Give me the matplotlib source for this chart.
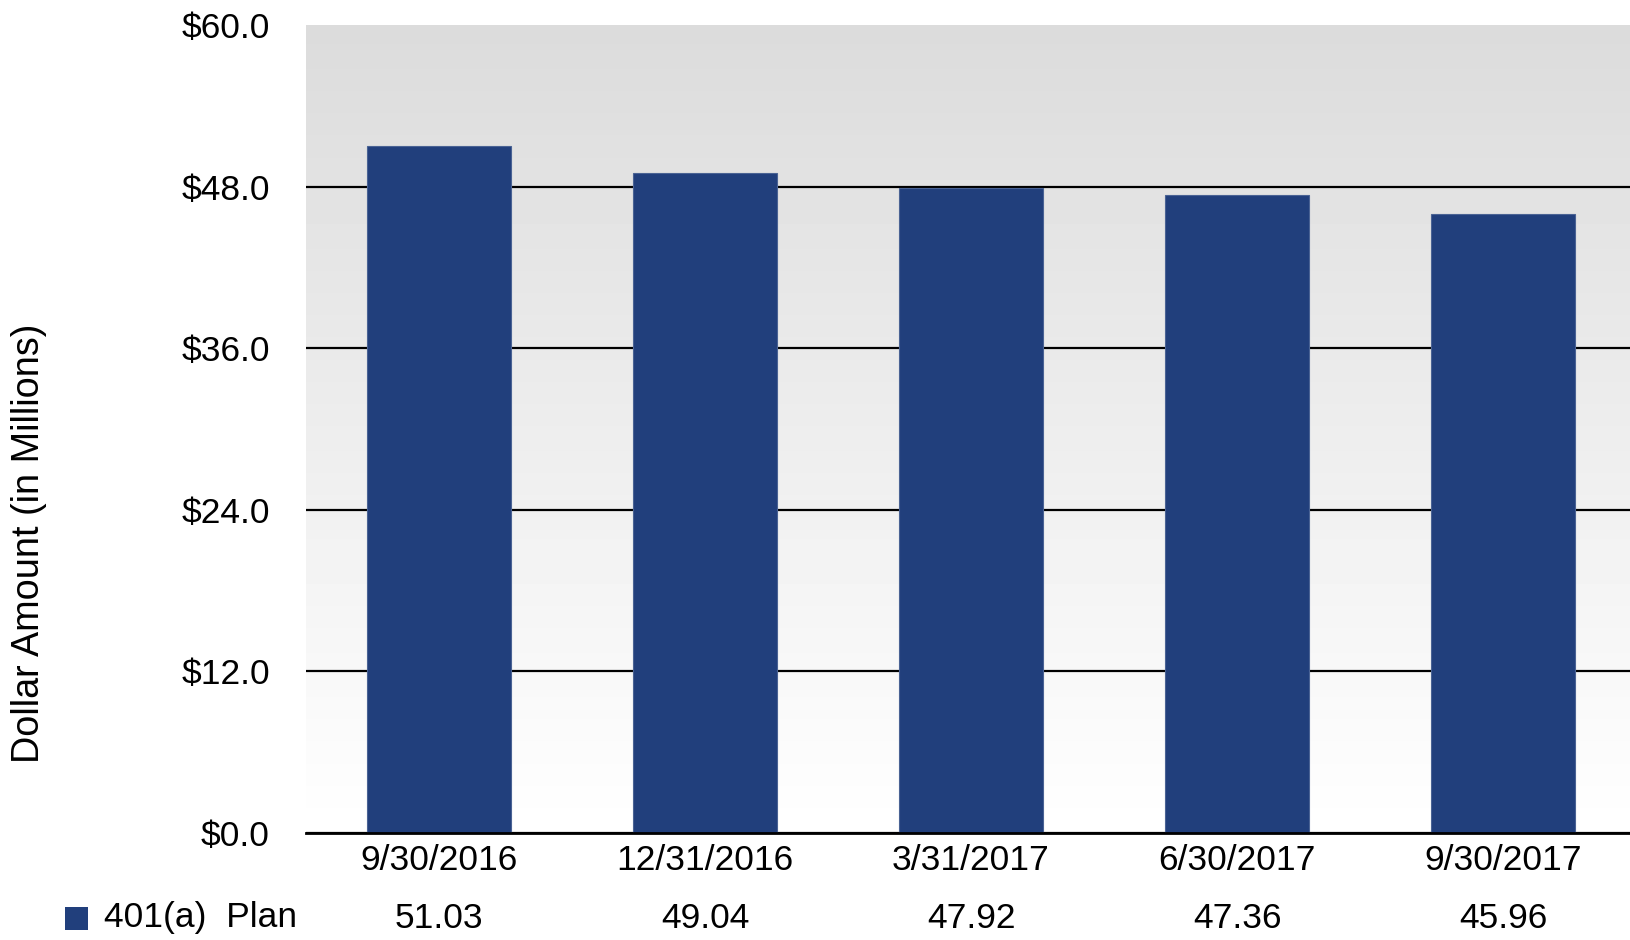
import numpy as np
import matplotlib.pyplot as plt
import matplotlib.transforms as mtransforms
from matplotlib.patches import Rectangle

dates = ['9/30/2016', '12/31/2016', '3/31/2017', '6/30/2017', '9/30/2017']
plan_401a = [51.03, 49.04, 47.92, 47.36, 45.96]
series_name = '401(a)  Plan'
yticks = [0, 12, 24, 36, 48, 60]

plt.rcParams['font.family'] = ['Liberation Sans', 'DejaVu Sans']
bar_color = '#213f7c'
W, H = 1630, 940


def main():
    fig = plt.figure(figsize=(W / 100, H / 100), dpi=100)
    # axes box in pixels: left 306, top 25, bottom 833; runs a bit past the right edge
    ax = fig.add_axes([306 / W, (H - 833) / H, (1636 - 306) / W, (833 - 25) / H])

    # grey (top) to white (bottom) gradient background
    grad = np.linspace(1.0, 0.86, 256).reshape(-1, 1)
    ax.imshow(grad, cmap='gray', vmin=0, vmax=1, aspect='auto', origin='lower',
              extent=[0, 1, 0, 1], transform=ax.transAxes, zorder=0)

    x = np.arange(len(dates))
    ax.bar(x, plan_401a, width=0.545, color=bar_color, edgecolor='#4a6394',
           linewidth=0.8, zorder=3)

    ax.set_xlim(-0.5, len(dates) - 0.5)
    ax.set_ylim(0, 60)
    ax.set_yticks(yticks)
    ax.set_yticklabels(['${:.1f}'.format(v) for v in yticks])
    ax.yaxis.grid(True, color='black', linewidth=1.6, zorder=1)
    ax.get_ygridlines()[-1].set_visible(False)
    ax.set_axisbelow(True)

    ax.set_xticks(x)
    ax.set_xticklabels(dates)
    ax.tick_params(axis='both', length=0, labelsize=25.5)
    ax.tick_params(axis='y', pad=26)
    ax.tick_params(axis='x', pad=8)

    for side in ['top', 'right', 'left']:
        ax.spines[side].set_visible(False)
    ax.spines['bottom'].set_linewidth(2)
    ax.spines['bottom'].set_color('black')
    ax.spines['bottom'].set_zorder(4)

    # data table row under the axis
    row = mtransforms.blended_transform_factory(ax.transData, fig.transFigure)
    for i, v in enumerate(plan_401a):
        ax.text(i, (H - 918) / H, '{:.2f}'.format(v), fontsize=25.5,
                ha='center', va='center', transform=row, clip_on=False)
    fig.patches.append(Rectangle((65 / W, (H - 930) / H), 23 / W, 23 / H,
                                 facecolor=bar_color, edgecolor='none',
                                 transform=fig.transFigure, figure=fig))
    fig.text(104 / W, (H - 918) / H, series_name, fontsize=25.5,
             ha='left', va='center')

    fig.text(29 / W, (H - 543) / H, 'Dollar Amount (in Millions)', fontsize=27.2,
             rotation=90, ha='center', va='center')

    fig.savefig('out.png', dpi=100)


if __name__ == '__main__':
    main()
